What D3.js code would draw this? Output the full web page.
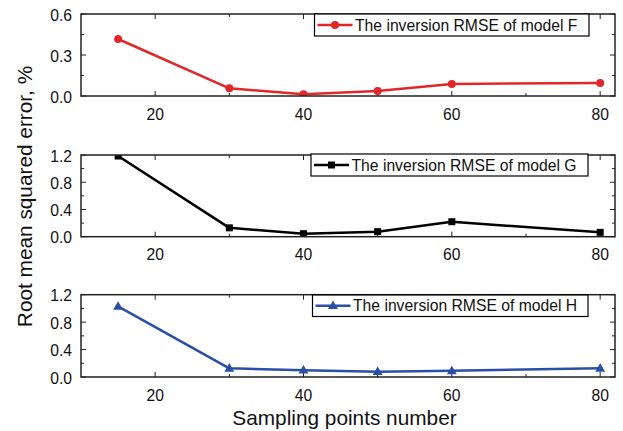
<!DOCTYPE html>
<html><head><meta charset="utf-8">
<script src="https://cdn.jsdelivr.net/npm/d3@7"></script>
<style>body{margin:0;background:#fff}svg{display:block}</style>
</head><body>
<svg id="c" width="623" height="431"></svg>
<script>
const samplingPoints = [15, 30, 40, 50, 60, 80];
const rmseF = [0.417, 0.056, 0.012, 0.037, 0.088, 0.095];
const rmseG = [1.185, 0.13, 0.044, 0.074, 0.22, 0.064];
const rmseH = [1.03, 0.127, 0.10, 0.077, 0.09, 0.127];
const xTicks = [20, 40, 60, 80];
const xMinorTicks = [30, 50, 70];
const yTicksF = [0.0, 0.3, 0.6];
const yMinorF = [0.15, 0.45];
const yTicksGH = [0.0, 0.4, 0.8, 1.2];
const yMinorGH = [0.2, 0.6, 1.0];
const legendLabels = ["The inversion RMSE of model F", "The inversion RMSE of model G", "The inversion RMSE of model H"];

const svg = d3.select("#c");
const font = "'Liberation Sans', Arial, sans-serif";
const L = 81, R = 615;
const x = d3.scaleLinear().domain([10, 82]).range([L, R]);

const panels = [
  {vals: rmseF, top: 14, bot: 96, ymax: 0.6, yt: yTicksF, ym: yMinorF, color: "#e0282a", marker: "circle", leg: [314.5, 14, 589, 36], label: legendLabels[0]},
  {vals: rmseG, top: 155, bot: 236.7, ymax: 1.2, yt: yTicksGH, ym: yMinorGH, color: "#000000", marker: "square", leg: [311, 154, 588, 176], label: legendLabels[1]},
  {vals: rmseH, top: 294.7, bot: 377, ymax: 1.2, yt: yTicksGH, ym: yMinorGH, color: "#2a4fa6", marker: "triangle", leg: [312.5, 295, 588, 316.5], label: legendLabels[2]}
];

function drawMarker(g, type, cx, cy, color) {
  if (type === "circle") g.append("circle").attr("cx", cx).attr("cy", cy).attr("r", 4).attr("fill", color);
  else if (type === "square") g.append("rect").attr("x", cx - 3.5).attr("y", cy - 3.5).attr("width", 7).attr("height", 7).attr("fill", color);
  else g.append("path").attr("d", d3.symbol(d3.symbolTriangle, 42)()).attr("transform", `translate(${cx},${cy + 0.5})`).attr("fill", color);
}

panels.forEach((p, pi) => {
  const y = d3.scaleLinear().domain([0, p.ymax]).range([p.bot, p.top]);
  const g = svg.append("g");
  const axisColor = "#222";
  const clipId = "clip" + pi;
  svg.append("defs").append("clipPath").attr("id", clipId).append("rect")
    .attr("x", L).attr("y", p.top).attr("width", R - L).attr("height", p.bot - p.top);
  // ticks (inward on all sides)
  const tk = (x1, y1, x2, y2) => g.append("line").attr("x1", x1).attr("y1", y1).attr("x2", x2).attr("y2", y2).attr("stroke", axisColor).attr("stroke-width", 1);
  xTicks.forEach(v => { tk(x(v), p.bot, x(v), p.bot - 5); tk(x(v), p.top, x(v), p.top + 5); });
  xMinorTicks.forEach(v => { tk(x(v), p.bot, x(v), p.bot - 3); tk(x(v), p.top, x(v), p.top + 3); });
  p.yt.forEach(v => { tk(L, y(v), L + 5, y(v)); tk(R, y(v), R - 5, y(v)); });
  p.ym.forEach(v => { tk(L, y(v), L + 3, y(v)); tk(R, y(v), R - 3, y(v)); });
  // tick labels
  xTicks.forEach(v => g.append("text").attr("x", x(v)).attr("y", p.bot + 23.5).attr("text-anchor", "middle")
    .attr("font-family", font).attr("font-size", 15.7).attr("fill", "#111").text(v));
  p.yt.forEach(v => g.append("text").attr("x", L - 9).attr("y", y(v) + 6.5).attr("text-anchor", "end")
    .attr("font-family", font).attr("font-size", 15.7).attr("fill", "#111").text(v.toFixed(1)));
  // line
  const dg = g.append("g").attr("clip-path", `url(#${clipId})`);
  const line = d3.line().x((d, i) => x(samplingPoints[i])).y(d => y(d));
  dg.append("path").datum(p.vals).attr("d", line).attr("fill", "none").attr("stroke", p.color).attr("stroke-width", 2.5).attr("stroke-linejoin", "round");
  p.vals.forEach((v, i) => drawMarker(dg, p.marker, x(samplingPoints[i]), y(v), p.color));
  // frame
  g.append("rect").attr("x", L).attr("y", p.top).attr("width", R - L).attr("height", p.bot - p.top)
    .attr("fill", "none").attr("stroke", axisColor).attr("stroke-width", 1.5);
  // legend
  const [lx1, ly1, lx2, ly2] = p.leg;
  g.append("rect").attr("x", lx1).attr("y", ly1).attr("width", lx2 - lx1).attr("height", ly2 - ly1)
    .attr("fill", "#fff").attr("stroke", "#000").attr("stroke-width", 1.2);
  const my = (ly1 + ly2) / 2;
  g.append("line").attr("x1", lx1 + 3).attr("x2", lx1 + 38).attr("y1", my).attr("y2", my).attr("stroke", p.color).attr("stroke-width", 2.5);
  drawMarker(g, p.marker, lx1 + 20.5, my, p.color);
  g.append("text").attr("x", lx1 + 40.5).attr("y", my + 5.5).attr("font-family", font).attr("font-size", 15.7).attr("fill", "#111").text(p.label);
});

svg.append("text").attr("transform", "translate(32,196.5) rotate(-90)").attr("text-anchor", "middle")
  .attr("font-family", font).attr("font-size", 20.8).attr("fill", "#111").text("Root mean squared error, %");
svg.append("text").attr("x", 344.5).attr("y", 425).attr("text-anchor", "middle")
  .attr("font-family", font).attr("font-size", 20.8).attr("fill", "#111").text("Sampling points number");
</script>
</body></html>
